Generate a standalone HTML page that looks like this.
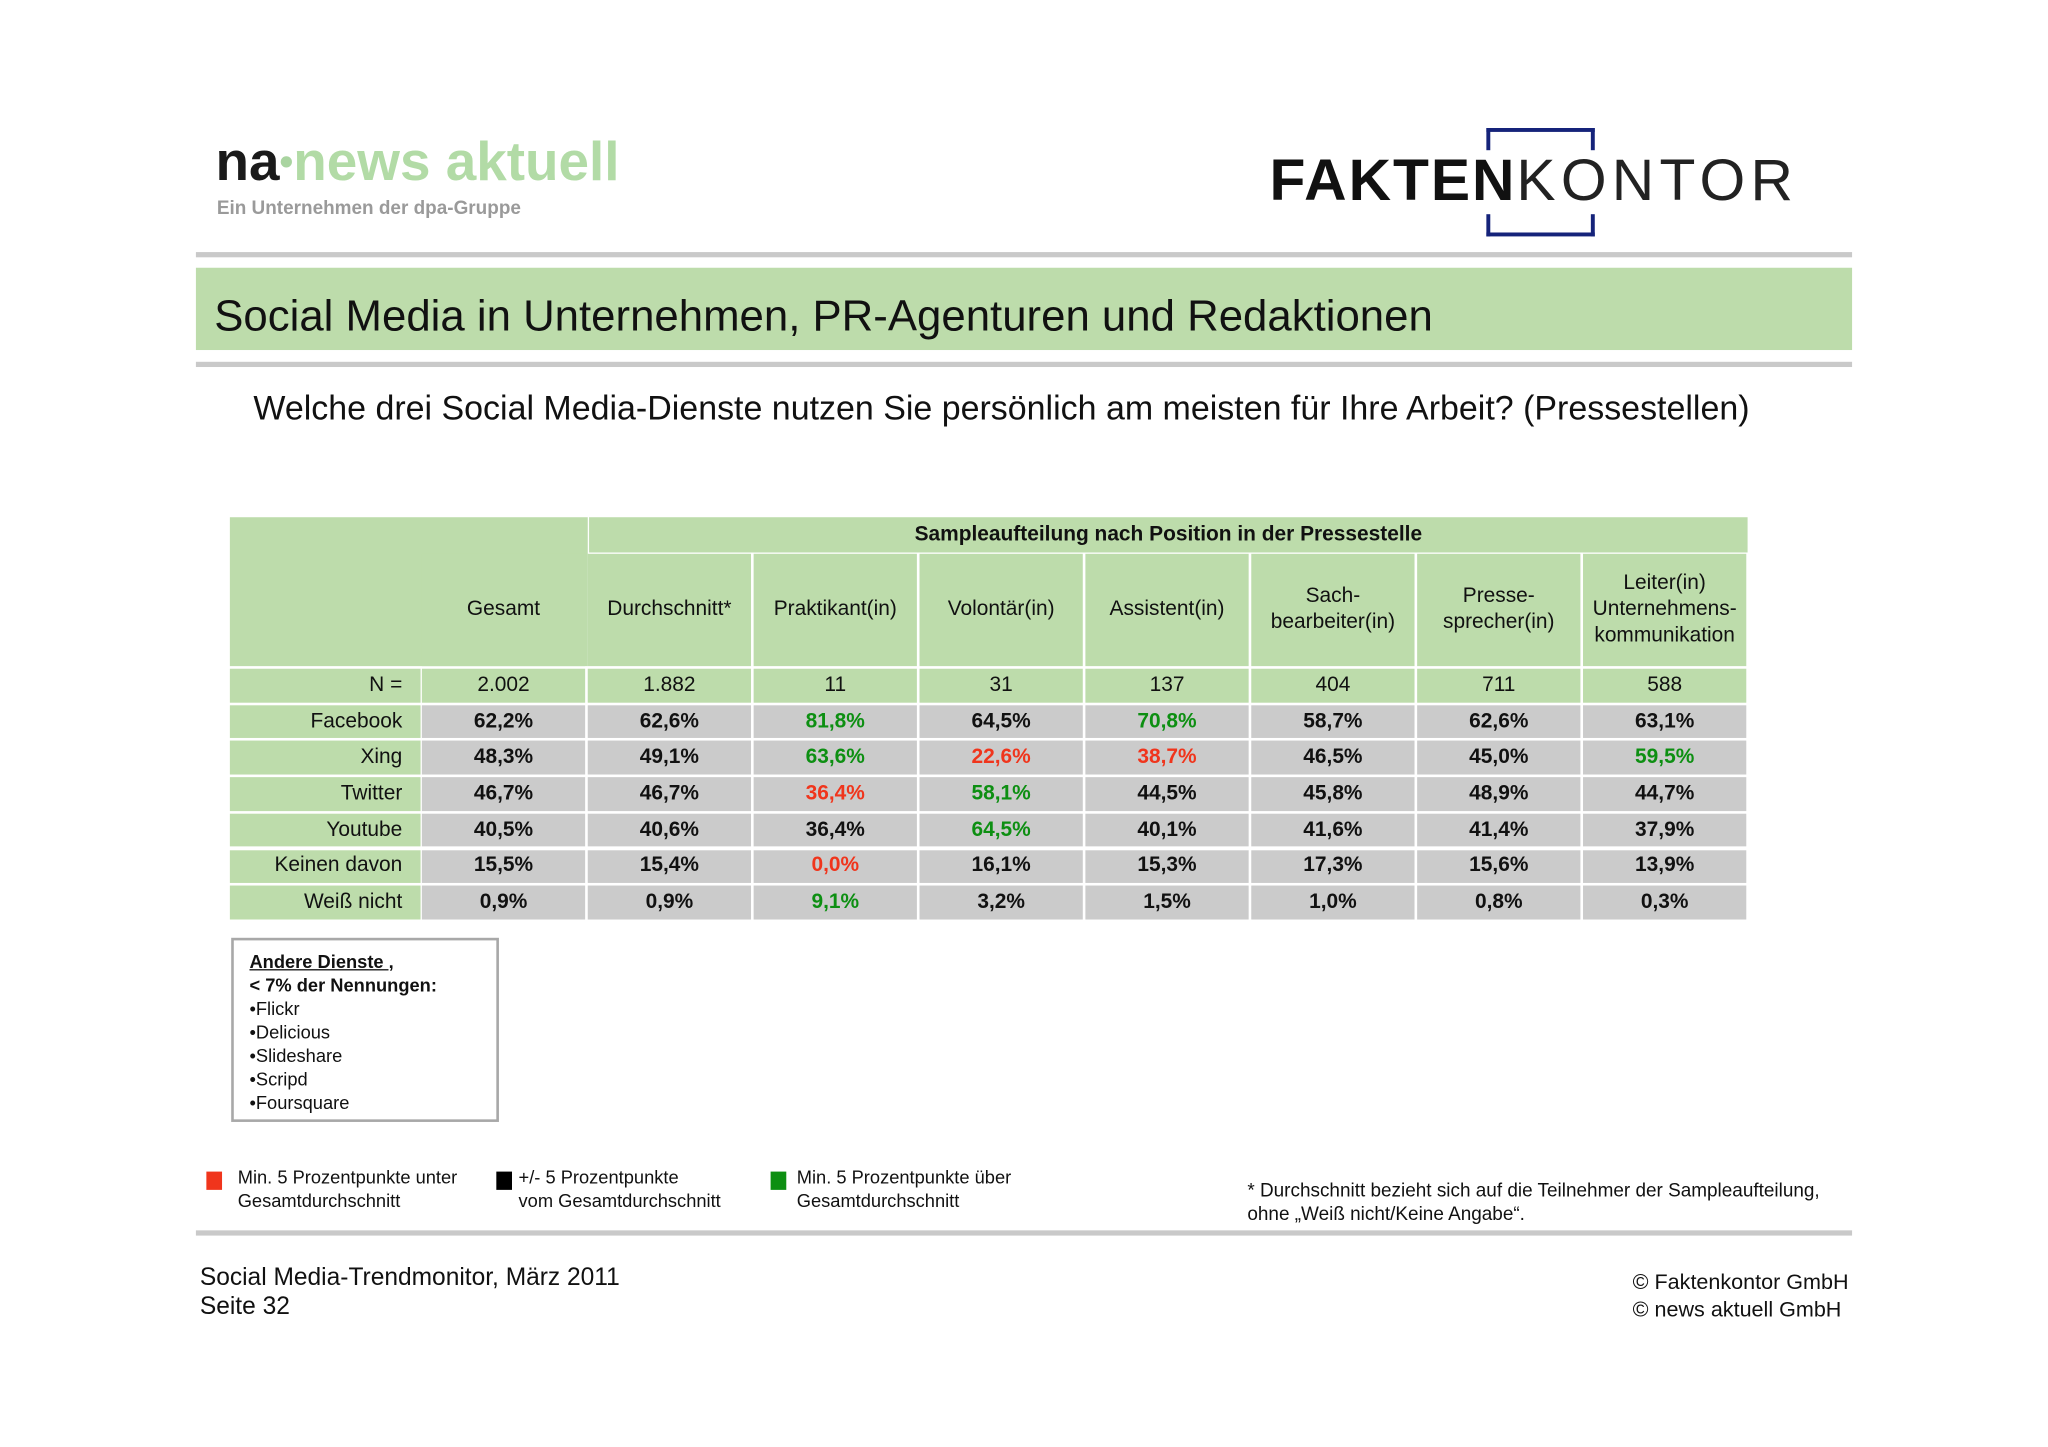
<!DOCTYPE html>
<html><head><meta charset="utf-8">
<style>
html,body{margin:0;padding:0;background:#fff;width:2048px;height:1447px;overflow:hidden}
#s{position:absolute;left:0;top:0;width:1568px;height:1108px;transform:scale(1.30612);transform-origin:0 0;font-family:"Liberation Sans",Arial,sans-serif;color:#111}
.a{position:absolute;white-space:nowrap}
.c{position:absolute;display:flex;align-items:center;justify-content:center;text-align:center;font-size:16px;line-height:20px}
.g{background:#bddcab}.h{background:#cbcbcb}
.t{font-size:14px;line-height:18px}
</style></head><body>
<div id="s">
<div class="a" style="left:165px;top:100px;font-size:42px;font-weight:bold"><span style="color:#1a1a1a">na</span><span style="color:#a9d4a0;font-size:30px;vertical-align:4px">•</span><span style="color:#b2dba6">news aktuell</span></div>
<div class="a" style="left:166px;top:152px;font-size:14.5px;font-weight:bold;color:#9a9a9a">Ein Unternehmen der dpa-Gruppe</div>
<div class="a" style="left:972px;top:115px;font-size:45px;line-height:46px;letter-spacing:1.5px"><span style="font-weight:bold;color:#111">FAKTEN</span><span style="color:#222;font-weight:normal;letter-spacing:4px">KONTOR</span></div>
<div class="a" style="left:1138px;top:98px;width:77px;height:14px;border:3px solid #15237a;border-bottom:none"></div>
<div class="a" style="left:1138px;top:164px;width:77px;height:14px;border:3px solid #15237a;border-top:none"></div>
<div class="a" style="left:150px;top:193px;width:1268px;height:4px;background:#c9c9c9"></div>
<div class="a g" style="left:150px;top:205px;width:1268px;height:63px"></div>
<div class="a" style="left:164px;top:223px;font-size:33.5px;line-height:40px">Social Media in Unternehmen, PR-Agenturen und Redaktionen</div>
<div class="a" style="left:150px;top:277px;width:1268px;height:4px;background:#c9c9c9"></div>
<div class="a" style="left:194px;top:297px;font-size:26px;line-height:30px">Welche drei Social Media-Dienste nutzen Sie persönlich am meisten für Ihre Arbeit? (Pressestellen)</div>
<div id="tbl"></div>
<div class="a t" style="left:177px;top:718px;width:205px;height:141px;border:2px solid #a8a8a8;box-sizing:border-box">
<div style="position:absolute;left:12px;top:7px;font-size:14px;line-height:18px"><b><u>Andere Dienste ,</u></b><br><b>&lt; 7% der Nennungen:</b><br>•Flickr<br>•Delicious<br>•Slideshare<br>•Scripd<br>•Foursquare</div></div>
<div class="a" style="left:158px;top:897px;width:12px;height:14px;background:#f0351c"></div>
<div class="a t" style="left:182px;top:892px">Min. 5 Prozentpunkte unter<br>Gesamtdurchschnitt</div>
<div class="a" style="left:380px;top:897px;width:12px;height:14px;background:#000"></div>
<div class="a t" style="left:397px;top:892px">+/- 5 Prozentpunkte<br>vom Gesamtdurchschnitt</div>
<div class="a" style="left:590px;top:897px;width:12px;height:14px;background:#0d8f12"></div>
<div class="a t" style="left:610px;top:892px">Min. 5 Prozentpunkte über<br>Gesamtdurchschnitt</div>
<div class="a t" style="left:955px;top:903px;font-size:14.5px">* Durchschnitt bezieht sich auf die Teilnehmer der Sampleaufteilung,<br>ohne „Weiß nicht/Keine Angabe“.</div>
<div class="a" style="left:150px;top:942px;width:1268px;height:4px;background:#c9c9c9"></div>
<div class="a" style="left:153px;top:967px;font-size:18.8px;line-height:22px">Social Media-Trendmonitor, März 2011<br>Seite 32</div>
<div class="a" style="left:1250px;top:972px;font-size:16.5px;line-height:21px">© Faktenkontor GmbH<br>© news aktuell GmbH</div>
</div>
<script>
const columns=["Gesamt","Durchschnitt*","Praktikant(in)","Volontär(in)","Assistent(in)","Sach-<br>bearbeiter(in)","Presse-<br>sprecher(in)","Leiter(in)<br>Unternehmens-<br>kommunikation"];
const nValues=["2.002","1.882","11","31","137","404","711","588"];
const rowLabels=["Facebook","Xing","Twitter","Youtube","Keinen davon","Weiß nicht"];
const values=[
["62,2%","62,6%","81,8%","64,5%","70,8%","58,7%","62,6%","63,1%"],
["48,3%","49,1%","63,6%","22,6%","38,7%","46,5%","45,0%","59,5%"],
["46,7%","46,7%","36,4%","58,1%","44,5%","45,8%","48,9%","44,7%"],
["40,5%","40,6%","36,4%","64,5%","40,1%","41,6%","41,4%","37,9%"],
["15,5%","15,4%","0,0%","16,1%","15,3%","17,3%","15,6%","13,9%"],
["0,9%","0,9%","9,1%","3,2%","1,5%","1,0%","0,8%","0,3%"]];
const flags=[
["","","g","","g","","",""],
["","","g","r","r","","","g"],
["","","r","g","","","",""],
["","","","g","","","",""],
["","","r","","","","",""],
["","","g","","","","",""]];
const tbl=document.getElementById('tbl');
const X0=323,CW=127,LX=176;
function cell(x,y,w,h,cls,html,name){
 const d=document.createElement('div');
 d.className='c '+cls;
 d.style.left=x+'px';d.style.top=y+'px';d.style.width=w+'px';d.style.height=h+'px';
 d.innerHTML=html;
 
 
 tbl.appendChild(d);return d;
}
cell(LX,396,274,114,'g','','table-corner');
cell(451,396,X0+CW*8-451-1,27,'g','<b>Sampleaufteilung nach Position in der Pressestelle</b>','table-group-header');
columns.forEach((c,i)=>{cell(X0+i*CW,424,CW-2,86,'g',c,'column-header');});
const rowTop=512,RH=27.7;
let nl=cell(LX,rowTop,146,26,'g','N =','n-label');nl.style.justifyContent='flex-end';nl.style.paddingRight='14px';nl.style.boxSizing='border-box';
nValues.forEach((v,i)=>{cell(X0+i*CW,rowTop,CW-2,26,'g',v,'n-value');});
rowLabels.forEach((r,ri)=>{
 const y=rowTop+(ri+1)*RH;
 const l=cell(LX,y,146,RH-2,'g',r,'row-label');
 l.style.justifyContent='flex-end';l.style.paddingRight='14px';l.style.boxSizing='border-box';
 values[ri].forEach((v,ci)=>{
  const f=flags[ri][ci];
  const col=f==='g'?'#0d8f12':f==='r'?'#f0351c':'#111';
  cell(X0+ci*CW,y,CW-2,RH-2,'h','<b style="color:'+col+'">'+v+'</b>','value-cell');
 });
});
</script>
</body></html>
